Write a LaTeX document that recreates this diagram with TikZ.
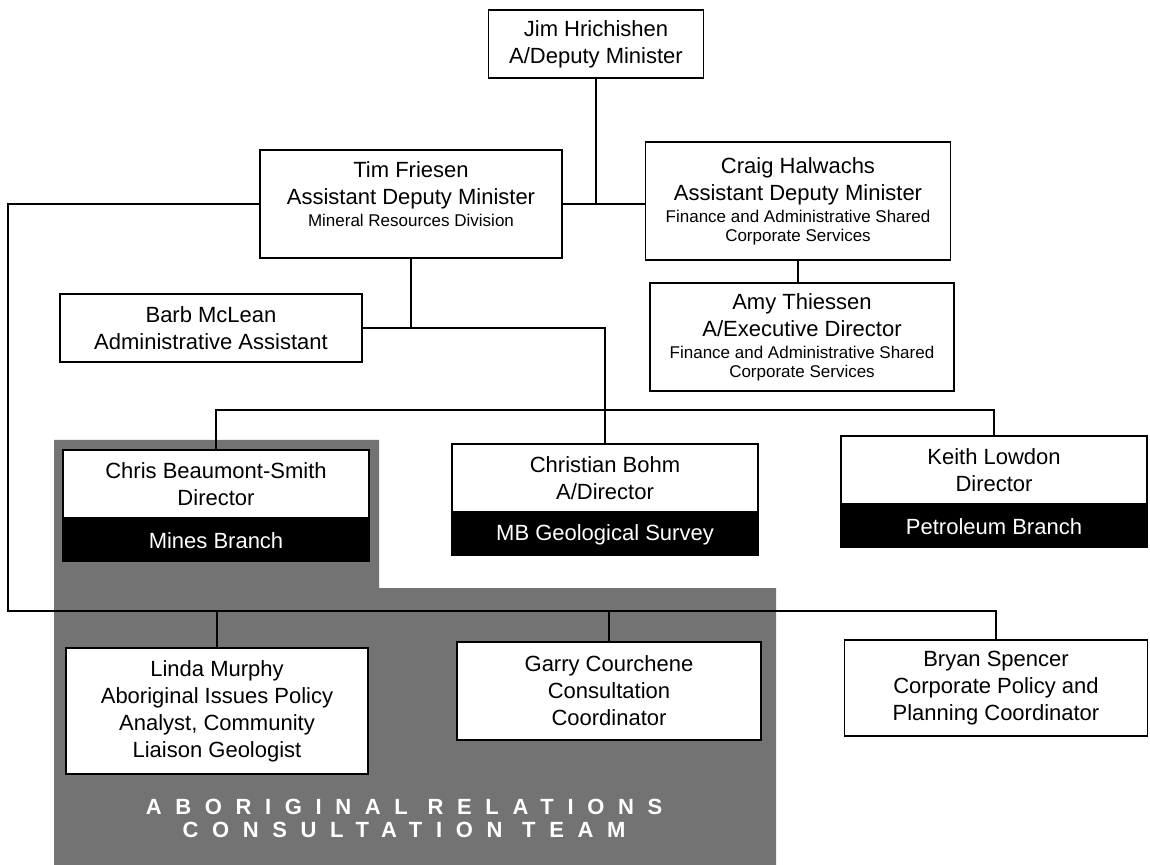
\documentclass[tikz,border=0pt]{standalone}
\usepackage{fontspec}
\setmainfont{Liberation Sans}
\newfontfamily\teamfont[LetterSpace=62]{Liberation Sans}
\usetikzlibrary{positioning}
\newcommand{\smalltxt}[1]{{\fontsize{8.5}{10}\selectfont #1}}
\tikzset{chart/.style={x=0.5pt,y=-0.5pt}}
\tikzset{post/.style={draw,fill=white,line width=0.8pt,align=center,inner sep=1pt,
  font=\fontsize{11}{13.5}\selectfont}}
\tikzset{branchbar/.style={draw,fill=black,text=white,line width=0.8pt,inner sep=1pt,
  minimum height=21pt,font=\fontsize{11}{13.5}\selectfont}}
\tikzset{link/.style={line width=0.8pt}}
\tikzset{halftone/.style={fill=black!55}}
\tikzset{teamlabel/.style={text=white,align=center,font=\teamfont\fontsize{11}{11.5}\bfseries}}

\begin{document}
\begin{tikzpicture}[chart]
  \useasboundingbox (0,0) rectangle (1150,865);
  \fill[white] (0,0) rectangle (1150,865);
  % consultation team area
  \fill[halftone] (54,440) -- (379,440) -- (379,588) -- (776,588) -- (776,865) -- (54,865) -- cycle;

  \node[post,minimum width=107.5pt,minimum height=34pt] (jim) at (596,44) {Jim Hrichishen\\A/Deputy Minister};
  \node[post,minimum width=151pt,minimum height=54pt] (tim) at (411,204)
    {Tim Friesen\\Assistant Deputy Minister\\[-2.5pt]\smalltxt{Mineral Resources Division}\\[-4pt]\mbox{}};
  \node[post,minimum width=152.5pt,minimum height=59pt] (craig) at (798,201)
    {Craig Halwachs\\Assistant Deputy Minister\\[-2.5pt]\smalltxt{Finance and Administrative Shared}\\[-4pt]\smalltxt{Corporate Services}};
  \node[post,minimum width=152pt,minimum height=54pt] (amy) at (802,337)
    {Amy Thiessen\\A/Executive Director\\[-2.5pt]\smalltxt{Finance and Administrative Shared}\\[-4pt]\smalltxt{Corporate Services}};
  \node[post,minimum width=151pt,minimum height=34pt] (barb) at (211,328) {Barb McLean\\Administrative Assistant};

  \node[post,minimum width=153pt,minimum height=34pt] (chris) at (216,484) {Chris Beaumont-Smith\\Director};
  \node[branchbar,minimum width=153pt,below=0pt of chris] (chrisbar) {Mines Branch};
  \node[post,minimum width=153pt,minimum height=34pt] (bohm) at (605,478) {Christian Bohm\\A/Director};
  \node[branchbar,minimum width=153pt,below=0pt of bohm] (bohmbar) {MB Geological Survey};
  \node[post,minimum width=153pt,minimum height=34pt] (keith) at (994,470) {Keith Lowdon\\Director};
  \node[branchbar,minimum width=153pt,below=0pt of keith] (keithbar) {Petroleum Branch};

  \node[post,minimum width=151pt,minimum height=63pt] (linda) at (217,711)
    {Linda Murphy\\Aboriginal Issues Policy\\Analyst, Community\\Liaison Geologist};
  \node[post,minimum width=152pt,minimum height=49pt] (garry) at (609,691) {Garry Courchene\\Consultation\\Coordinator};
  \node[post,minimum width=151.5pt,minimum height=48pt] (bryan) at (996,688)
    {Bryan Spencer\\Corporate Policy and\\Planning Coordinator};

  \node[teamlabel] (team) at (404,818) {ABORIGINAL RELATIONS\\CONSULTATION TEAM};

  \coordinate (lft) at (8,611);
  \coordinate (fork) at (0,410);
  \draw[link] (jim.south) -- (jim.south |- tim.east);
  \draw[link] (tim.east) -- (craig.west |- tim.east);
  \draw[link] (craig.south) -- (craig.south |- amy.north);
  \draw[link] (tim.west) -| (lft) -| (bryan.north);
  \draw[link] (linda.north) -- (linda.north |- lft);
  \draw[link] (garry.north) -- (garry.north |- lft);
  \draw[link] (tim.south) -- (tim.south |- barb.east);
  \draw[link] (barb.east) -| (bohm.north);
  \draw[link] (chris.north) |- (keith.north |- fork) -- (keith.north);
\end{tikzpicture}
\end{document}
